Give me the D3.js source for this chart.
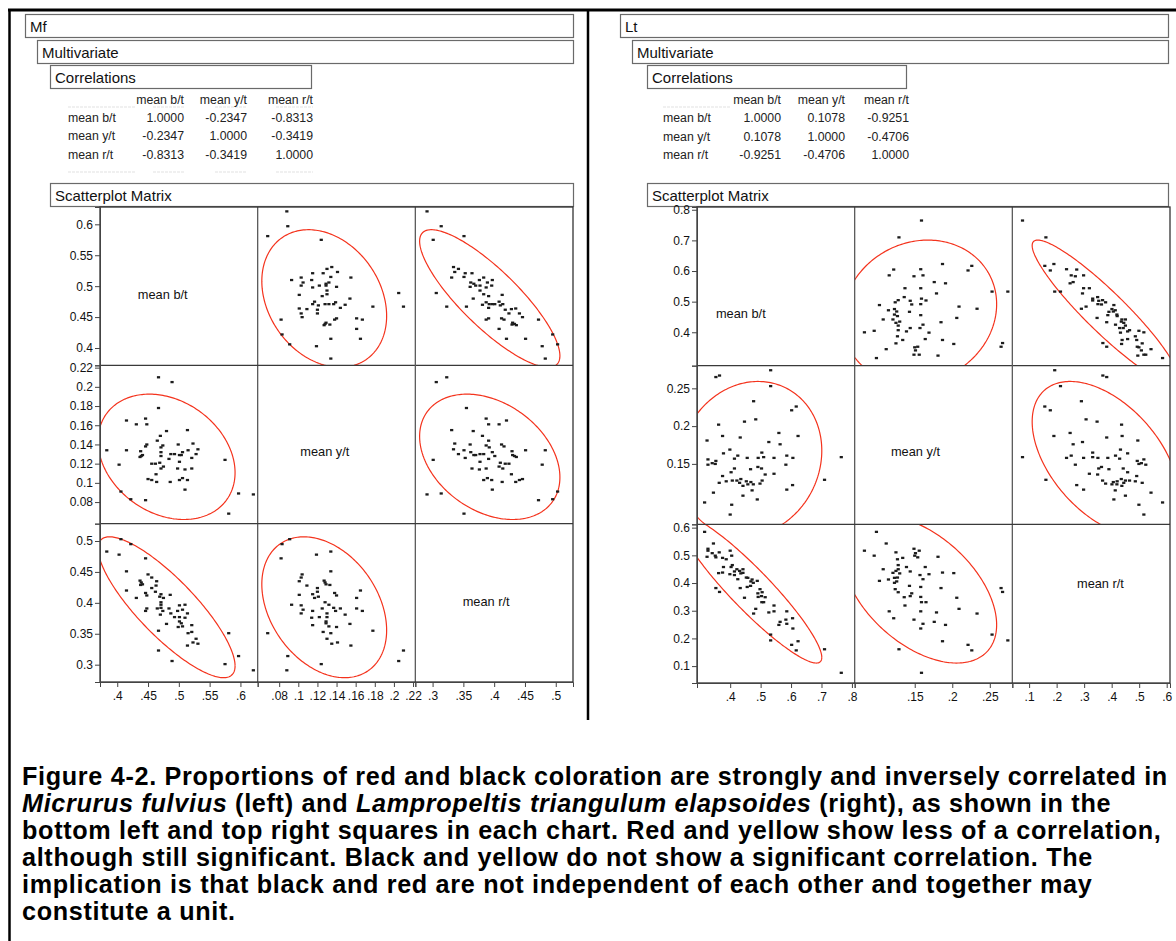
<!DOCTYPE html>
<html><head><meta charset="utf-8">
<script src="https://cdn.jsdelivr.net/npm/d3@7"></script>
<style>
body{margin:0;background:#fff;}
svg{display:block;font-family:"Liberation Sans",Arial,Helvetica,sans-serif;}
</style></head><body>
<svg id="fig" width="1176" height="941"></svg>
<script>
// ---- Micrurus fulvius (Mf): per-specimen proportions of black, yellow, red ----
const mfBlack = [0.621,0.597,0.581,0.575,0.531,0.528,0.523,0.521,0.521,0.514,0.515,0.514,0.510,0.506,0.504,0.501,0.501,0.499,0.506,0.510,0.501,0.498,0.493,0.489,0.487,0.484,0.486,0.480,0.474,0.471,0.471,0.470,0.471,0.475,0.471,0.469,0.467,0.467,0.465,0.462,0.463,0.464,0.456,0.456,0.450,0.448,0.446,0.448,0.446,0.441,0.438,0.437,0.446,0.431,0.422,0.415,0.415,0.406,0.403,0.383,0.439];
const mfYellow = [0.088,0.089,0.068,0.124,0.135,0.130,0.141,0.126,0.115,0.155,0.134,0.103,0.114,0.132,0.129,0.129,0.122,0.140,0.105,0.093,0.103,0.115,0.130,0.205,0.130,0.125,0.101,0.154,0.139,0.132,0.128,0.149,0.137,0.117,0.115,0.121,0.210,0.178,0.144,0.120,0.109,0.101,0.120,0.103,0.104,0.140,0.138,0.161,0.167,0.129,0.133,0.127,0.082,0.161,0.083,0.165,0.134,0.091,0.119,0.134,0.128];
const mfRed = [0.291,0.314,0.351,0.301,0.334,0.342,0.336,0.353,0.364,0.331,0.351,0.383,0.376,0.362,0.367,0.370,0.377,0.361,0.389,0.397,0.396,0.387,0.377,0.306,0.383,0.391,0.413,0.366,0.387,0.397,0.401,0.381,0.392,0.408,0.414,0.410,0.323,0.355,0.391,0.418,0.428,0.435,0.424,0.441,0.446,0.412,0.416,0.391,0.387,0.430,0.429,0.436,0.472,0.408,0.495,0.420,0.451,0.503,0.478,0.483,0.433];

// ---- Lampropeltis triangulum elapsoides (Lt) ----
const ltBlack = [0.765,0.710,0.617,0.623,0.602,0.606,0.605,0.586,0.583,0.586,0.560,0.564,0.533,0.533,0.544,0.544,0.527,0.510,0.504,0.515,0.503,0.505,0.492,0.498,0.491,0.489,0.484,0.477,0.476,0.472,0.467,0.456,0.458,0.453,0.447,0.442,0.442,0.435,0.431,0.433,0.425,0.414,0.414,0.407,0.405,0.400,0.399,0.403,0.387,0.375,0.378,0.375,0.362,0.365,0.353,0.364,0.353,0.351,0.341,0.345,0.327,0.327,0.324,0.316,0.468,0.422];
const ltYellow = [0.159,0.129,0.226,0.187,0.221,0.158,0.122,0.161,0.149,0.116,0.191,0.176,0.274,0.253,0.158,0.137,0.179,0.159,0.165,0.136,0.144,0.128,0.158,0.124,0.146,0.103,0.209,0.233,0.123,0.115,0.143,0.158,0.123,0.127,0.206,0.121,0.108,0.130,0.125,0.185,0.161,0.157,0.144,0.128,0.096,0.083,0.169,0.139,0.127,0.134,0.164,0.187,0.202,0.267,0.265,0.125,0.154,0.150,0.151,0.112,0.156,0.149,0.181,0.099,0.126,0.128];
const ltRed = [0.076,0.161,0.157,0.190,0.177,0.236,0.273,0.253,0.268,0.298,0.249,0.260,0.193,0.214,0.298,0.319,0.294,0.331,0.331,0.349,0.353,0.367,0.350,0.378,0.363,0.408,0.307,0.290,0.401,0.413,0.390,0.386,0.419,0.420,0.347,0.437,0.450,0.435,0.444,0.382,0.414,0.429,0.442,0.465,0.499,0.517,0.432,0.458,0.486,0.491,0.458,0.438,0.436,0.368,0.382,0.511,0.493,0.499,0.508,0.543,0.517,0.524,0.495,0.585,0.406,0.450];

// ---- variable names and correlation tables ----
const varNames = ["mean b/t", "mean y/t", "mean r/t"];
const mfCorr = [[1.0, -0.2347, -0.8313], [-0.2347, 1.0, -0.3419], [-0.8313, -0.3419, 1.0]];
const ltCorr = [[1.0, 0.1078, -0.9251], [0.1078, 1.0, -0.4706], [-0.9251, -0.4706, 1.0]];

// ---- axis ranges and tick values for each variable (b, y, r) ----
const mfDomains = [[0.372, 0.628], [0.0575, 0.2224], [0.272, 0.528]];
const mfMajorTicks = [[0.4, 0.45, 0.5, 0.55, 0.6], [0.08, 0.1, 0.12, 0.14, 0.16, 0.18, 0.2, 0.22], [0.3, 0.35, 0.4, 0.45, 0.5]];
const mfMinorTicks = [[0.375, 0.425, 0.475, 0.525, 0.575, 0.625], [0.06, 0.07, 0.09, 0.11, 0.13, 0.15, 0.17, 0.19, 0.21], [0.275, 0.325, 0.375, 0.425, 0.475, 0.525]];
const ltDomains = [[0.291, 0.809], [0.07, 0.28], [0.039, 0.612]];
const ltMajorTicks = [[0.4, 0.5, 0.6, 0.7, 0.8], [0.15, 0.2, 0.25], [0.1, 0.2, 0.3, 0.4, 0.5, 0.6]];
const ltMinorTicks = [[0.3, 0.35, 0.45, 0.55, 0.65, 0.75], [0.075, 0.1, 0.125, 0.175, 0.225, 0.275], [0.05, 0.15, 0.25, 0.35, 0.45, 0.55]];

const captionLines = [
  [["Figure 4-2. Proportions of red and black coloration are strongly and inversely correlated in", false]],
  [["Micrurus fulvius", true], [" (left) and ", false], ["Lampropeltis triangulum elapsoides", true], [" (right), as shown in the", false]],
  [["bottom left and top right squares in each chart. Red and yellow show less of a correlation,", false]],
  [["although still significant. Black and yellow do not show a significant correlation. The", false]],
  [["implication is that black and red are not independent of each other and together may", false]],
  [["constitute a unit.", false]]
];

const panels = [
  {
    title: "Mf", vars: [mfBlack, mfYellow, mfRed], corr: mfCorr,
    domains: mfDomains, major: mfMajorTicks, minor: mfMinorTicks,
    boxes: [[25, 14, 573, 37], [37, 40, 573, 63], [50, 65, 311, 88], [50, 183, 573, 206]],
    table: {labelX: 68, colX: [184, 247, 313], headY: 104, rowY: [122, 140, 159]},
    ghost: {y1: 107, y2: 172, segs: [[68, 135], [153, 185], [215, 247], [276, 313]]},
    matrix: {left: 100, right: 573, top: 207, bottom: 682},
    diag: [[0.24, 0.58], [0.27, 0.57], [0.3, 0.52]]
  },
  {
    title: "Lt", vars: [ltBlack, ltYellow, ltRed], corr: ltCorr,
    domains: ltDomains, major: ltMajorTicks, minor: ltMinorTicks,
    boxes: [[620, 14, 1168, 37], [632, 40, 1168, 63], [647, 65, 906, 88], [647, 183, 1168, 206]],
    table: {labelX: 663, colX: [781, 845, 909], headY: 104, rowY: [122, 141, 159]},
    ghost: {y1: 107, y2: null, segs: [[663, 730]]},
    matrix: {left: 697, right: 1170, top: 207, bottom: 683},
    diag: [[0.12, 0.7], [0.23, 0.57], [0.41, 0.4]]
  }
];

const svg = d3.select("#fig");
const locale = d3.formatLocale({decimal: ".", thousands: ",", grouping: [3], currency: ["", ""], minus: "-"});
const fmt4 = locale.format(".4f");
const fmtLeft = locale.format(".2~f");
const fmtBottom = v => locale.format(".2~f")(v).replace(/^0\./, ".");
const CHI2_95 = 5.991;

// page frame
svg.append("line").attr("x1", 8).attr("x2", 1176).attr("y1", 10).attr("y2", 10)
  .attr("stroke", "#000").attr("stroke-width", 3);
svg.append("line").attr("x1", 9.5).attr("x2", 9.5).attr("y1", 9).attr("y2", 941)
  .attr("stroke", "#000").attr("stroke-width", 2.5);
svg.append("line").attr("x1", 588).attr("x2", 588).attr("y1", 9).attr("y2", 720)
  .attr("stroke", "#000").attr("stroke-width", 2.5);

function drawBox(g, [x1, y1, x2, y2], label) {
  g.append("rect").attr("x", x1 + 0.5).attr("y", y1 + 0.5)
    .attr("width", x2 - x1).attr("height", y2 - y1)
    .attr("fill", "#fff").attr("stroke", "#6a6a6a").attr("stroke-width", 1.2);
  g.append("text").attr("x", x1 + 5).attr("y", y1 + 17.5)
    .attr("font-size", 15).attr("fill", "#111").text(label);
}

let clipId = 0;
panels.forEach(p => {
  const g = svg.append("g");
  const labels = [p.title, "Multivariate", "Correlations", "Scatterplot Matrix"];
  p.boxes.forEach((b, i) => drawBox(g, b, labels[i]));

  // correlation table
  const t = p.table;
  p.ghost.segs.forEach(([a, b]) => {
    g.append("line").attr("x1", a).attr("x2", b).attr("y1", p.ghost.y1).attr("y2", p.ghost.y1)
      .attr("stroke", "#ececec").attr("stroke-width", 1.5).attr("stroke-dasharray", "3,1");
    if (p.ghost.y2) g.append("line").attr("x1", a).attr("x2", b).attr("y1", p.ghost.y2).attr("y2", p.ghost.y2)
      .attr("stroke", "#ececec").attr("stroke-width", 1.5).attr("stroke-dasharray", "3,1");
  });
  varNames.forEach((name, j) => {
    g.append("text").attr("x", t.colX[j]).attr("y", t.headY)
      .attr("text-anchor", "end").attr("font-size", 12.3).attr("fill", "#222").text(name);
  });
  varNames.forEach((name, i) => {
    g.append("text").attr("x", t.labelX).attr("y", t.rowY[i])
      .attr("font-size", 12.3).attr("fill", "#222").text(name);
    p.corr[i].forEach((v, j) => {
      g.append("text").attr("x", t.colX[j]).attr("y", t.rowY[i])
        .attr("text-anchor", "end").attr("font-size", 12.3).attr("fill", "#222").text(fmt4(v));
    });
  });

  // scatterplot matrix
  const m = p.matrix;
  const cw = (m.right - m.left) / 3, ch = (m.bottom - m.top) / 3;
  const n = p.vars[0].length;
  for (let i = 0; i < 3; i++) {        // row: variable on the vertical axis
    for (let j = 0; j < 3; j++) {      // column: variable on the horizontal axis
      const x0 = m.left + j * cw, y0 = m.top + i * ch;
      const cell = g.append("g");
      if (i === j) {
        cell.append("text").attr("x", x0 + p.diag[i][0] * cw).attr("y", y0 + p.diag[i][1] * ch)
          .attr("font-size", 12.8).attr("fill", "#111").text(varNames[i]);
        continue;
      }
      const sx = d3.scaleLinear().domain(p.domains[j]).range([x0, x0 + cw]);
      const sy = d3.scaleLinear().domain(p.domains[i]).range([y0 + ch, y0]);
      const id = "clip" + (clipId++);
      svg.append("clipPath").attr("id", id).append("rect")
        .attr("x", x0).attr("y", y0).attr("width", cw).attr("height", ch);
      const xs = p.vars[j], ys = p.vars[i];
      const pts = d3.range(n).map(k => [xs[k], ys[k]]);

      // 95% bivariate normal density ellipse
      const mx = d3.mean(xs), my = d3.mean(ys);
      let sxx = 0, syy = 0, sxy = 0;
      for (let k = 0; k < n; k++) {
        sxx += (xs[k] - mx) ** 2; syy += (ys[k] - my) ** 2; sxy += (xs[k] - mx) * (ys[k] - my);
      }
      sxx /= n - 1; syy /= n - 1; sxy /= n - 1;
      const l11 = Math.sqrt(sxx), l21 = sxy / l11, l22 = Math.sqrt(syy - l21 * l21);
      const kk = Math.sqrt(CHI2_95);
      const ell = d3.range(0, 241).map(s => {
        const a = s / 240 * 2 * Math.PI;
        return [mx + kk * l11 * Math.cos(a), my + kk * (l21 * Math.cos(a) + l22 * Math.sin(a))];
      });
      cell.append("path").attr("clip-path", `url(#${id})`)
        .attr("d", d3.line().x(d => sx(d[0])).y(d => sy(d[1]))(ell))
        .attr("fill", "none").attr("stroke", "#f4331d").attr("stroke-width", 1.2);

      cell.append("g").attr("clip-path", `url(#${id})`).selectAll("rect").data(pts).join("rect")
        .attr("x", d => sx(d[0]) - 1.6).attr("y", d => sy(d[1]) - 1.1)
        .attr("width", 3.2).attr("height", 2.3).attr("fill", "#1c1c1c");
    }
  }

  // grid lines of the matrix
  for (let k = 1; k < 3; k++) {
    g.append("line").attr("x1", m.left + k * cw).attr("x2", m.left + k * cw)
      .attr("y1", m.top).attr("y2", m.bottom).attr("stroke", "#5a5a5a").attr("stroke-width", 1.3);
    g.append("line").attr("y1", m.top + k * ch).attr("y2", m.top + k * ch)
      .attr("x1", m.left).attr("x2", m.right).attr("stroke", "#3a3a3a").attr("stroke-width", 1.3);
  }
  g.append("rect").attr("x", m.left).attr("y", m.top).attr("width", m.right - m.left)
    .attr("height", m.bottom - m.top).attr("fill", "none").attr("stroke", "#333").attr("stroke-width", 1.3);

  // axes: left for each row, bottom for each column
  for (let i = 0; i < 3; i++) {
    const y0 = m.top + i * ch;
    const sy = d3.scaleLinear().domain(p.domains[i]).range([y0 + ch, y0]);
    const ax = g.append("g").attr("transform", `translate(${m.left},0)`);
    ax.call(d3.axisLeft(sy).tickValues(p.minor[i].filter(v => v >= sy.domain()[0] && v <= sy.domain()[1]))
      .tickSize(3).tickFormat(""));
    ax.call(d3.axisLeft(sy).tickValues(p.major[i]).tickSize(5).tickPadding(2).tickFormat(fmtLeft));
  }
  for (let j = 0; j < 3; j++) {
    const x0 = m.left + j * cw;
    const sx = d3.scaleLinear().domain(p.domains[j]).range([x0, x0 + cw]);
    const ax = g.append("g").attr("transform", `translate(0,${m.bottom})`);
    ax.call(d3.axisBottom(sx).tickValues(p.minor[j].filter(v => v >= sx.domain()[0] && v <= sx.domain()[1]))
      .tickSize(3).tickFormat(""));
    ax.call(d3.axisBottom(sx).tickValues(p.major[j]).tickSize(5).tickPadding(4).tickFormat(fmtBottom));
  }
});

svg.selectAll(".domain").attr("stroke", "#444");
svg.selectAll(".tick line").attr("stroke", "#444");
svg.selectAll(".tick text").attr("font-size", 12).attr("fill", "#111")
  .attr("font-family", "'Liberation Sans',Arial,sans-serif");

// caption: bold text, first line spans the full width
const cap = svg.append("g");
const capFont = 25.2;
const capTexts = captionLines.map((line, i) => {
  const t = cap.append("text").attr("x", 22).attr("y", 785 + i * 27)
    .attr("font-weight", "bold").attr("font-size", capFont).attr("fill", "#000");
  line.forEach(([s, it]) => t.append("tspan").attr("font-style", it ? "italic" : "normal").text(s));
  return t;
});
const first = captionLines[0][0][0];
const w0 = capTexts[0].node().getComputedTextLength();
const ls = Math.max(0, (1146 - w0) / first.length);
capTexts.forEach(t => t.attr("letter-spacing", ls.toFixed(2)));
</script></body></html>
